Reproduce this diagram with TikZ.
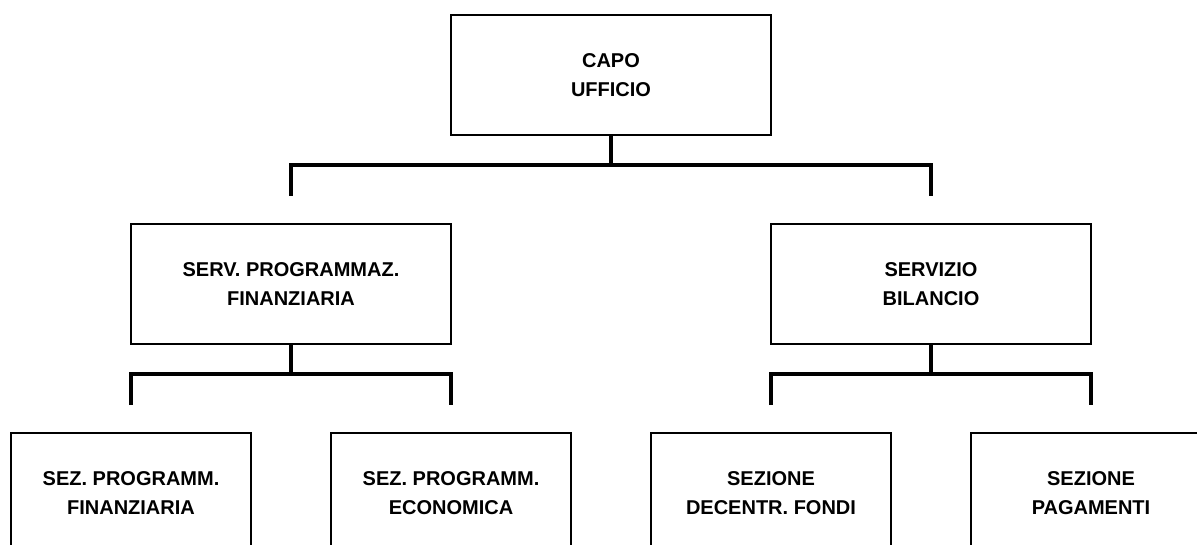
\documentclass[tikz,border=0pt]{standalone}
\usepackage{fontspec}
\setmainfont{Liberation Sans}
\begin{document}
\begin{tikzpicture}[x=1pt,y=-1pt,
  unit/.style={draw=black, line width=2pt, fill=white, inner sep=0pt,
    minimum width=320pt, minimum height=120pt, align=center,
    font=\bfseries\fontsize{20}{29}\selectfont},
  section/.style={unit, minimum width=240pt},
  conn/.style={line width=4pt, line join=miter}]
\useasboundingbox (0,0) rectangle (1197,545);
\clip (0,0) rectangle (1197,545);

% head of office
\node[unit] (capo) at (611,75) {CAPO\\UFFICIO};

% services
\node[unit] (prog) at (291,284) {SERV. PROGRAMMAZ.\\FINANZIARIA};
\node[unit] (bil)  at (931,284) {SERVIZIO\\BILANCIO};

% sections
\node[section] (sezfin) at (131,493)  {SEZ. PROGRAMM.\\FINANZIARIA};
\node[section] (sezeco) at (451,493)  {SEZ. PROGRAMM.\\ECONOMICA};
\node[section] (sezdec) at (771,493)  {SEZIONE\\DECENTR. FONDI};
\node[section] (sezpag) at (1091,493) {SEZIONE\\PAGAMENTI};

% junctions and drop ends
\coordinate (j0) at (611,165);
\coordinate (a1) at (291,196);
\coordinate (a2) at (931,196);
\coordinate (j1) at (291,374);
\coordinate (b1) at (131,405);
\coordinate (b2) at (451,405);
\coordinate (j2) at (931,374);
\coordinate (b3) at (771,405);
\coordinate (b4) at (1091,405);

% connectors
\draw[conn] (capo.south) -- (j0);
\draw[conn] (a1) |- (j0) -| (a2);
\draw[conn] (prog.south) -- (j1);
\draw[conn] (b1) |- (j1) -| (b2);
\draw[conn] (bil.south) -- (j2);
\draw[conn] (b3) |- (j2) -| (b4);
\end{tikzpicture}
\end{document}
